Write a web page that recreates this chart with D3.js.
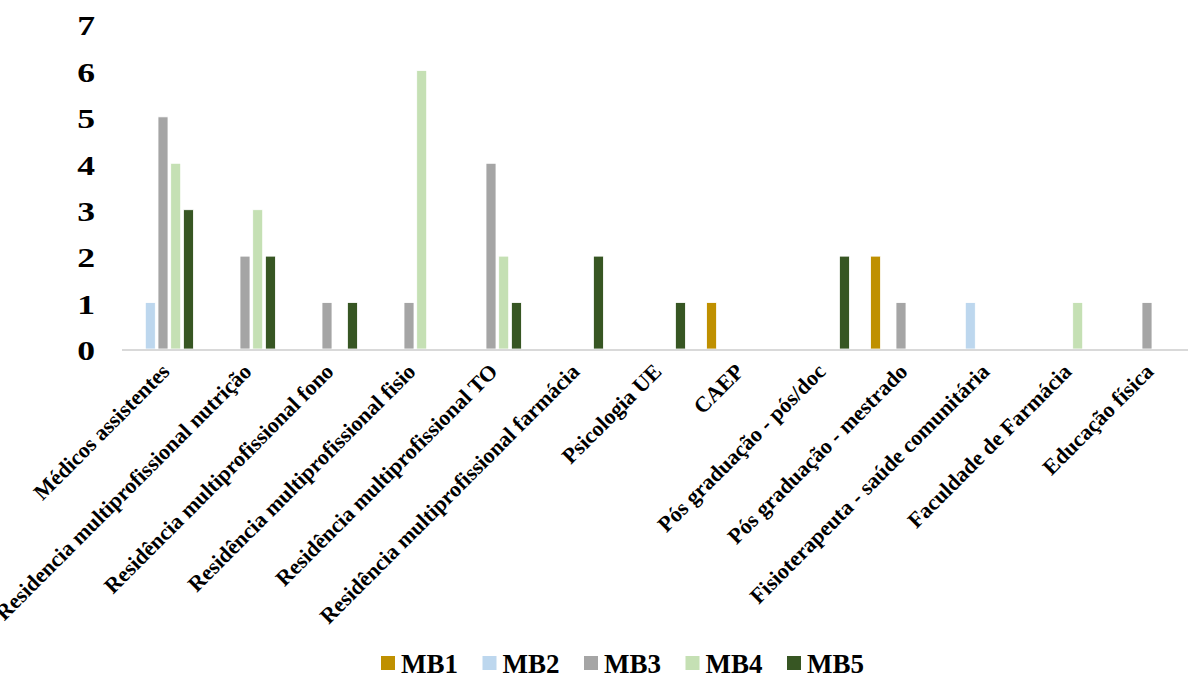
<!DOCTYPE html>
<html>
<head>
<meta charset="utf-8">
<script src="https://cdn.jsdelivr.net/npm/d3@7"></script>
<style>
  html, body { margin: 0; padding: 0; background: #ffffff; }
  svg { display: block; font-family: "Liberation Serif", "Times New Roman", serif; }
</style>
</head>
<body>
<svg id="chart" width="1190" height="678"></svg>
<script>
// Categories (x axis)
const categories = [
  "Médicos assistentes",
  "Residencia multiprofissional nutrição",
  "Residência multiprofissional fono",
  "Residência multiprofissional fisio",
  "Residência multiprofissional TO",
  "Residência multiprofissional farmácia",
  "Psicologia UE",
  "CAEP",
  "Pós graduação - pós/doc",
  "Pós graduação - mestrado",
  "Fisioterapeuta - saúde comunitária",
  "Faculdade de Farmácia",
  "Educação física"
];

// Series names
const seriesNames = ["MB1", "MB2", "MB3", "MB4", "MB5"];

// Values per series, one per category
const MB1 = [0, 0, 0, 0, 0, 0, 0, 1, 0, 2, 0, 0, 0];
const MB2 = [1, 0, 0, 0, 0, 0, 0, 0, 0, 0, 1, 0, 0];
const MB3 = [5, 2, 1, 1, 4, 0, 0, 0, 0, 1, 0, 0, 1];
const MB4 = [4, 3, 0, 6, 2, 0, 0, 0, 0, 0, 0, 1, 0];
const MB5 = [3, 2, 1, 0, 1, 2, 1, 0, 2, 0, 0, 0, 0];

const yTicks = [0, 1, 2, 3, 4, 5, 6, 7];

const seriesColors = ["#bf9000", "#bdd7ee", "#a5a5a5", "#c5e0b4", "#375623"];

const seriesValues = [MB1, MB2, MB3, MB4, MB5];

const rows = [];
categories.forEach((c, i) => {
  seriesNames.forEach((s, j) => {
    rows.push({ category: c, series: s, value: seriesValues[j][i] });
  });
});

const svg = d3.select("#chart");

const x0 = d3.scaleBand().domain(categories).range([122, 1188]).padding(0);
const groupWidth = 63.5;
const x1 = d3.scaleBand().domain(seriesNames)
  .range([(x0.bandwidth() - groupWidth) / 2, (x0.bandwidth() + groupWidth) / 2])
  .paddingInner(0.213).paddingOuter(0.1065);
const y = d3.scaleLinear().domain([0, 7]).range([349, 24]);
const color = d3.scaleOrdinal().domain(seriesNames).range(seriesColors);

// Bars
svg.append("g")
  .selectAll("rect")
  .data(rows.filter(d => d.value > 0))
  .join("rect")
  .attr("x", d => x0(d.category) + x1(d.series))
  .attr("y", d => y(d.value))
  .attr("width", x1.bandwidth())
  .attr("height", d => y(0) - y(d.value))
  .attr("fill", d => color(d.series))
  .attr("stroke", "#ffffff")
  .attr("stroke-width", 0.8);

// Baseline
svg.append("line")
  .attr("x1", 122).attr("x2", 1188)
  .attr("y1", y(0) + 1).attr("y2", y(0) + 1)
  .attr("stroke", "#d9d9d9").attr("stroke-width", 2);

// Y axis labels (wide bold digits)
const yAxis = d3.axisLeft(y).tickValues(yTicks).tickSize(0).tickPadding(0).tickFormat(d3.format("d"));
const yg = svg.append("g").attr("transform", "translate(95,0)").call(yAxis);
yg.select(".domain").remove();
yg.selectAll(".tick text")
  .attr("font-family", "Liberation Serif, Times New Roman, serif")
  .attr("font-size", 27)
  .attr("font-weight", "bold")
  .attr("fill", "#000")
  .attr("x", 0)
  .attr("dy", "0.4em")
  .attr("transform", "scale(1.32,1)");

// X axis labels (rotated)
const xAxis = d3.axisBottom(x0).tickSize(0).tickPadding(0);
const xg = svg.append("g").attr("transform", "translate(0,362)").call(xAxis);
xg.select(".domain").remove();
xg.selectAll("text")
  .attr("font-family", "Liberation Serif, Times New Roman, serif")
  .attr("font-size", 22)
  .attr("font-weight", "bold")
  .attr("fill", "#000")
  .attr("text-anchor", "end")
  .attr("dy", "0.7em")
  .attr("transform", "translate(-3,0) rotate(-45)");

// Legend
const legend = svg.append("g").attr("transform", "translate(381,656)");
const itemStep = 101.5;
const items = legend.selectAll("g").data(seriesNames).join("g")
  .attr("transform", (d, i) => `translate(${i * itemStep},0)`);
items.append("rect").attr("width", 14).attr("height", 14).attr("fill", d => color(d));
items.append("text")
  .attr("x", 20).attr("y", 7).attr("dy", "0.36em")
  .attr("font-size", 27).attr("font-weight", "bold").attr("fill", "#000")
  .text(d => d);
</script>
</body>
</html>
